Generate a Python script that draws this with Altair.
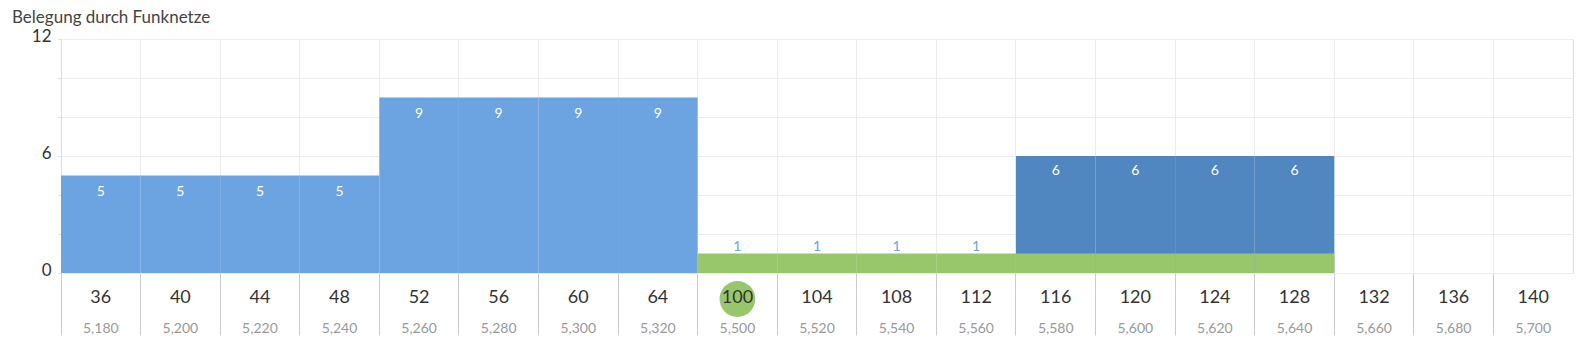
import altair as alt
import pandas as pd

channels = [36, 40, 44, 48, 52, 56, 60, 64, 100, 104, 108, 112, 116, 120, 124, 128, 132, 136, 140]
freqs = [5180, 5200, 5220, 5240, 5260, 5280, 5300, 5320, 5500, 5520, 5540, 5560, 5580, 5600, 5620, 5640, 5660, 5680, 5700]
net_light = [5, 5, 5, 5, 9, 9, 9, 9, 0, 0, 0, 0, 0, 0, 0, 0, 0, 0, 0]
net_dark = [0, 0, 0, 0, 0, 0, 0, 0, 0, 0, 0, 0, 6, 6, 6, 6, 0, 0, 0]
net_green = [0, 0, 0, 0, 0, 0, 0, 0, 1, 1, 1, 1, 1, 1, 1, 1, 0, 0, 0]
highlight = [100]
y_ticks = [0, 2, 4, 6, 8, 10, 12]
title = "Belegung durch Funknetze"

LIGHT = "#6ca3e1"
DARK = "#5087c0"
GREEN = "#98c76b"
FONT = "Lato"

ch_str = [str(c) for c in channels]
df = pd.DataFrame({
    "ch": ch_str,
    "freq": freqs,
    "light": net_light,
    "dark": net_dark,
    "green": net_green,
    "hl": [c in highlight for c in channels],
})

W, H = 1512, 234

x = alt.X("ch:O", sort=ch_str,
          scale=alt.Scale(paddingInner=0, paddingOuter=0),
          axis=alt.Axis(title=None, labels=False, domain=False, bandPosition=0,
                        grid=True, gridColor="#ececec", ticks=True, tickSize=62,
                        tickColor="#cccccc", tickWidth=1))
xs = alt.X("ch:O", sort=ch_str)

base = alt.Chart(df)

ysc = alt.Scale(domain=[0, 12], nice=False)
yaxis = alt.Axis(title=None, values=y_ticks, tickCount=20, format="d",
                 grid=True, gridColor="#ececec",
                 labelExpr="datum.value % 6 == 0 ? datum.label : ''",
                 labelOverlap=False,
                 labelFontSize=17, labelColor="#333333", labelFont=FONT,
                 tickSize=3, tickColor="#dddddd", labelPadding=7,
                 labelOffset=-3, domainColor="#dddddd", labelBaseline="middle")

bars_light = base.transform_filter("datum.light > 0").mark_bar(color=LIGHT).encode(
    x=x, y=alt.Y("light:Q", scale=ysc, axis=yaxis))
bars_dark = base.transform_filter("datum.dark > 0").mark_bar(color=DARK).encode(
    x=xs, y=alt.Y("dark:Q"))
bars_green = base.transform_filter("datum.green > 0").mark_bar(color=GREEN).encode(
    x=xs, y=alt.Y("green:Q"))

lbl_light = base.transform_filter("datum.light > 0").mark_text(
    color="white", fontSize=14, font=FONT, dy=16, baseline="middle").encode(
    x=xs, y="light:Q", text="light:Q")
lbl_dark = base.transform_filter("datum.dark > 0").mark_text(
    color="white", fontSize=14, font=FONT, dy=15, baseline="middle").encode(
    x=xs, y="dark:Q", text="dark:Q")
lbl_green = base.transform_filter("datum.green > 0 && datum.dark == 0").mark_text(
    color=LIGHT, fontSize=14, font=FONT, dy=-7, baseline="middle").encode(
    x=xs, y="green:Q", text="green:Q")

circ = base.transform_filter("datum.hl").mark_circle(
    color=GREEN, opacity=1, size=1280).encode(x=xs, y=alt.value(260))

ch_lbl = base.mark_text(fontSize=18, font=FONT, color="#333333", baseline="middle").encode(
    x=xs, y=alt.value(259), text="ch:N")
fq_lbl = base.mark_text(fontSize=14, font=FONT, color="#999999", baseline="middle").encode(
    x=xs, y=alt.value(290), text=alt.Text("freq:Q", format=","))

title_txt = alt.Chart(pd.DataFrame({"t": [title]})).mark_text(
    fontSize=17, font=FONT, color="#444444", align="left", baseline="alphabetic").encode(
    x=alt.value(-49), y=alt.value(-16), text="t:N")

chart = alt.layer(
    bars_light, bars_dark, bars_green, lbl_light, lbl_dark, lbl_green,
    circ, ch_lbl, fq_lbl, title_txt
).properties(
    width=W, height=H,
    autosize=alt.AutoSizeParams(type="none"),
    padding={"left": 53, "top": 31, "right": 4, "bottom": 70},
).configure_view(stroke="#dddddd", strokeWidth=1).configure(background="white")

chart.save("out.html", embed_options={"renderer": "svg", "actions": False})
